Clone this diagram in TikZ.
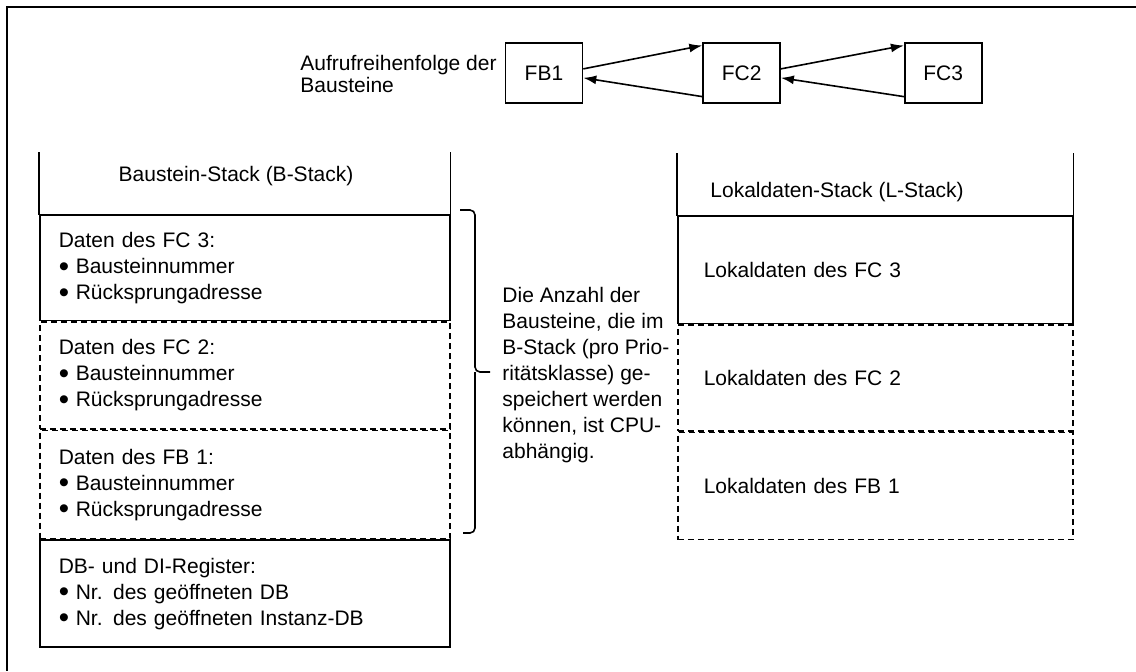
\documentclass[tikz,border=0pt]{standalone}
\usepackage{fontspec}
\usepackage{graphicx}
\setmainfont{Liberation Sans}
\usetikzlibrary{arrows.meta, positioning}

\newcommand{\blt}{\makebox[8.5pt][l]{\smash{\raisebox{-0.25ex}{\scalebox{1.4}{•}}}}}

\begin{document}
\begin{tikzpicture}[
            x=0.5pt, y=-0.5pt,
            font=\fontsize{10.5}{13}\selectfont,
            line width=0.8pt,
            fbox/.style={rectangle, draw, minimum width=38.5pt, minimum height=30pt, inner sep=0pt},
            cell/.style={rectangle, anchor=north west, align=left, inner ysep=0pt},
            bcell/.style={cell, text width=186pt, inner xsep=9.5pt},
            lcell/.style={cell, text width=171.5pt, inner xsep=13pt},
            solidcell/.style={draw},
            dashcell/.style={draw, dash pattern=on 3pt off 2pt},
            arrow/.style={->, >={Latex[length=6.5pt,width=4.5pt]}},
            bracket/.style={rounded corners=2.5pt}
        ]
        \useasboundingbox (0,0) rectangle (1136,671);
        \draw (1136,7) -- (7,7) -- (7,671);

        % call order
        \node[anchor=west, align=left, font=\fontsize{10.5}{11}\selectfont] (order) at (293,74) {Aufrufreihenfolge der\\Bausteine};
        \node[fbox] (fb1) at (544,73) {FB1};
        \node[fbox, right=59.5pt of fb1] (fc2) {FC2};
        \node[fbox, right=61.5pt of fc2] (fc3) {FC3};

        \draw[arrow] (fb1.6) -- (fc2.145);
        \draw[arrow] (fc2.211) -- (fb1.-7);
        \draw[arrow] (fc2.6) -- (fc3.145);
        \draw[arrow] (fc3.211) -- (fc2.-7);

        % B-Stack
        \node[bcell, minimum height=30.5pt] (bhead) at (39,152) {};
        \draw (bhead.north west) |- (bhead.south east) -- (bhead.north east);
        \node (bheadtext) at (236,176) {Baustein-Stack (B-Stack)};
        \node[bcell, solidcell, minimum height=52.5pt] (bfc3) at (bhead.south west) {Daten des FC 3:\\\blt Bausteinnummer\\\blt Rücksprungadresse};
        \node[bcell, dashcell, minimum height=53.5pt] (bfc2) at (bfc3.south west) {Daten des FC 2:\\\blt Bausteinnummer\\\blt Rücksprungadresse};
        \node[bcell, dashcell, minimum height=54pt] (bfb1) at (bfc2.south west) {Daten des FB 1:\\\blt Bausteinnummer\\\blt Rücksprungadresse};
        \node[bcell, solidcell, minimum height=53.5pt] (bdb) at (bfb1.south west) {DB- und DI-Register:\\\blt Nr. des geöffneten DB\\\blt Nr. des geöffneten Instanz-DB};

        % brace and note
        \coordinate (btop) at (460,210);
        \coordinate (bbot) at (463,533);
        \coordinate (bmid) at (475,372);
        \coordinate (btip) at (490,372);
        \draw[bracket] (btop) -| (bmid) -- (btip);
        \draw[bracket] (bbot) -| (bmid);
        \node[anchor=west, align=left] (note) at (495,375) {Die Anzahl der\\Bausteine, die im\\B-Stack (pro Prio-\\ritätsklasse) ge-\\speichert werden\\können, ist CPU-\\abhängig.};

        % L-Stack
        \node[lcell, minimum height=30.5pt] (lhead) at (677,153) {};
        \draw (lhead.north west) |- (lhead.south east) -- (lhead.north east);
        \node[anchor=west] (lheadtext) at (703,192) {Lokaldaten-Stack (L-Stack)};
        \node[lcell, solidcell, minimum height=53.5pt] (lfc3) at (lhead.south west) {Lokaldaten des FC 3};
        \node[lcell, dashcell, minimum height=53pt] (lfc2) at (lfc3.south west) {Lokaldaten des FC 2};
        \node[lcell, dashcell, minimum height=53.5pt] (lfb1) at (lfc2.south west) {Lokaldaten des FB 1};
\end{tikzpicture}
\end{document}
